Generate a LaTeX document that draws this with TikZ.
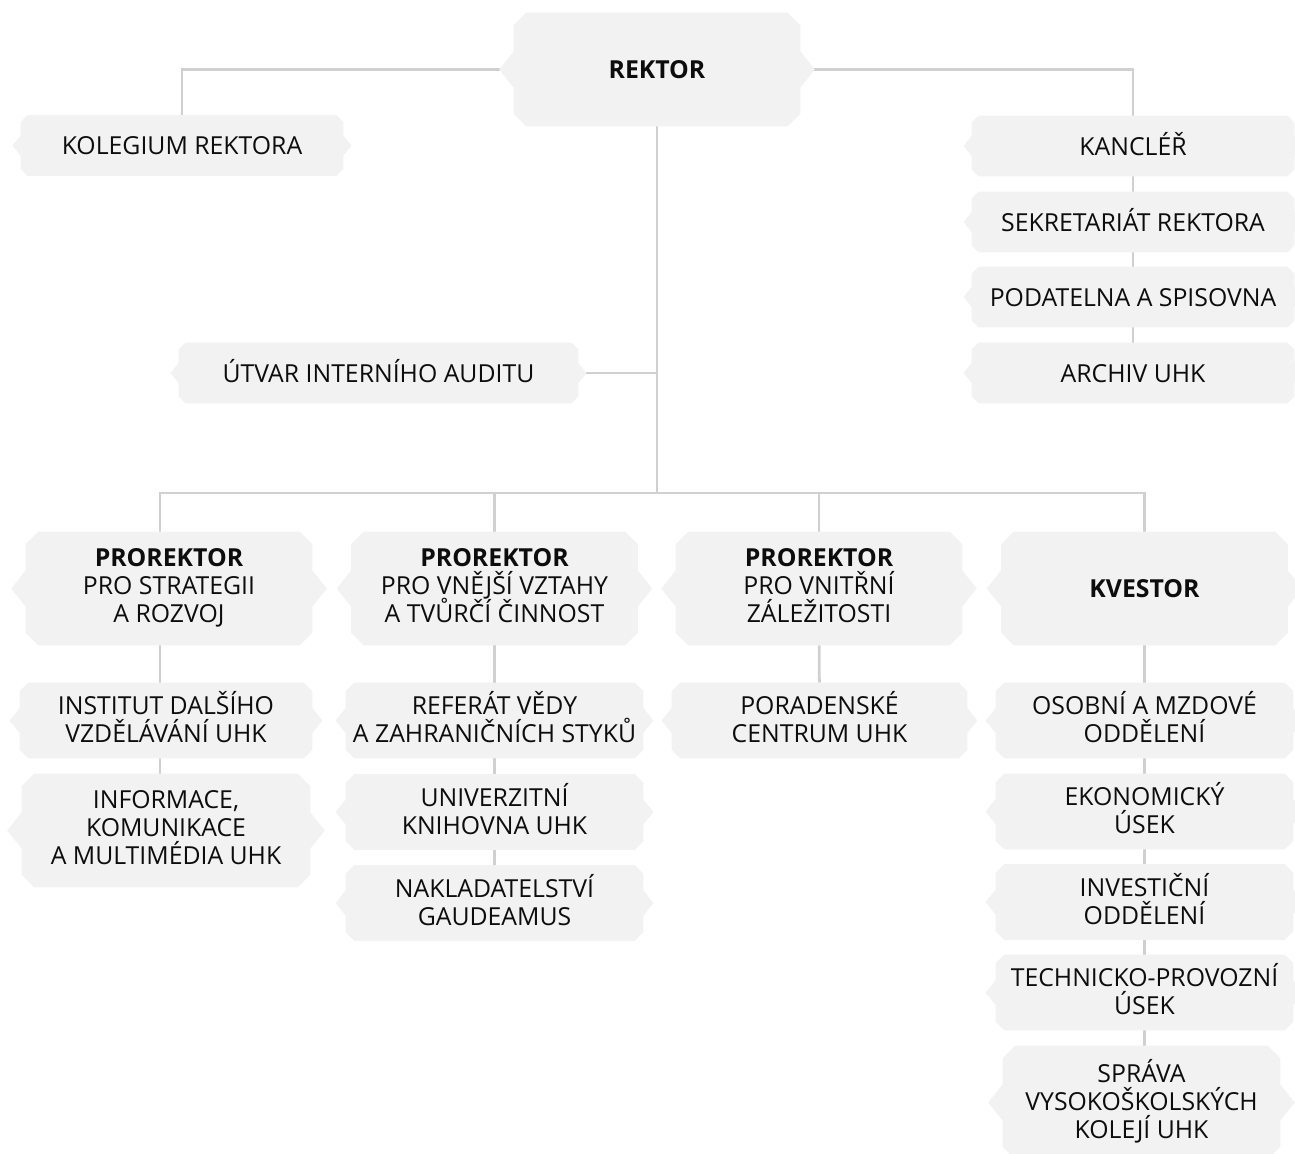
\documentclass[tikz,border=0pt]{standalone}
\usepackage{fontspec}
\setmainfont{Open Sans}
\usepackage{tikz}
\usepackage{xcolor}
\usetikzlibrary{backgrounds}
\definecolor{boxgray}{HTML}{F2F2F2}
\definecolor{linegray}{HTML}{D0D0D0}
\definecolor{ink}{HTML}{0D0D0D}
\begin{document}
\begin{tikzpicture}[x=0.5pt,y=-0.5pt,
    unit/.style={inner sep=0pt,align=center,text=ink,font=\fontsize{12.4}{14}\selectfont,
      execute at begin node={\lineskiplimit=-8pt\rule{0pt}{12.7pt}},
      execute at end node={\rule[-3.3pt]{0pt}{3.3pt}}},
    one/.style={unit,minimum height=30pt},
    two/.style={unit,minimum height=37.5pt},
    three/.style={unit,minimum height=56.5pt},
    wire/.style={draw=linegray,line width=1.4pt}]
  \useasboundingbox (0,0) rectangle (1295,1153);
  % top
  \node[three,minimum width=143pt] (rektor) at (657,69.5) {\textbf{REKTOR}};
  \node[one,minimum width=161pt] (kolegium) at (182,145.5) {KOLEGIUM REKTORA};
  \node[one,minimum width=161pt] (kancler) at (1133,146) {KANCLÉŘ};
  \node[one,minimum width=161pt] (sekretariat) at (1133,222) {SEKRETARIÁT REKTORA};
  \node[one,minimum width=161pt] (podatelna) at (1133,297) {PODATELNA A SPISOVNA};
  \node[one,minimum width=161pt] (archiv) at (1133,373) {ARCHIV UHK};
  \node[one,minimum width=199.5pt] (audit) at (378.5,373) {ÚTVAR INTERNÍHO AUDITU};
  % prorektori
  \node[three,minimum width=143pt] (pr1) at (169,588.5) {\textbf{PROREKTOR}\\PRO STRATEGII\\A ROZVOJ};
  \node[three,minimum width=143pt] (pr2) at (494.5,588.5) {\textbf{PROREKTOR}\\PRO VNĚJŠÍ VZTAHY\\A TVŮRČÍ ČINNOST};
  \node[three,minimum width=143pt] (pr3) at (819,588.5) {\textbf{PROREKTOR}\\PRO VNITŘNÍ\\ZÁLEŽITOSTI};
  \node[three,minimum width=143pt] (kvestor) at (1144.5,588.5) {\textbf{KVESTOR}};
  % soucasti
  \node[two,minimum width=146pt] (institut) at (166,720.5) {INSTITUT DALŠÍHO\\VZDĚLÁVÁNÍ UHK};
  \node[three,minimum width=144pt] (informace) at (166,830.5) {INFORMACE,\\KOMUNIKACE\\A MULTIMÉDIA UHK};
  \node[two,minimum width=148.5pt] (referat) at (494.5,720.5) {REFERÁT VĚDY\\A ZAHRANIČNÍCH STYKŮ};
  \node[two,minimum width=148.5pt] (knihovna) at (494.5,812) {UNIVERZITNÍ\\KNIHOVNA UHK};
  \node[two,minimum width=148.5pt] (nakladatelstvi) at (494.5,903) {NAKLADATELSTVÍ\\GAUDEAMUS};
  \node[two,minimum width=147.5pt] (poradenske) at (819.5,720.5) {PORADENSKÉ\\CENTRUM UHK};
  \node[two,minimum width=148.5pt] (osobni) at (1144.5,720.5) {OSOBNÍ A MZDOVÉ\\ODDĚLENÍ};
  \node[two,minimum width=148.5pt] (ekonomicky) at (1144.5,811.5) {EKONOMICKÝ\\ÚSEK};
  \node[two,minimum width=148.5pt] (investicni) at (1144.5,902) {INVESTIČNÍ\\ODDĚLENÍ};
  \node[two,minimum width=148.5pt] (technicko) at (1144.5,992.5) {TECHNICKO-PROVOZNÍ\\ÚSEK};
  \node[three,minimum width=138.5pt] (sprava) at (1141.5,1102.5) {SPRÁVA\\VYSOKOŠKOLSKÝCH\\KOLEJÍ UHK};
  \coordinate (bus) at (657,493);
  \begin{scope}[on background layer]
    % spojnice
    \draw[wire] (rektor.west) -| (kolegium.north);
    \draw[wire] (rektor.east) -| (kancler.north);
    \draw[wire] (kancler) -- (archiv);
    \draw[wire] (rektor) -- (bus);
    \draw[wire] (audit.east) -- (audit.east -| rektor);
    \draw[wire] ([xshift=-4.5pt]pr1.north) |- (kvestor.north |- bus) -- (kvestor.north);
    \foreach \p in {pr2,pr3} \draw[wire] (\p.north) -- (\p.north |- bus);
    \draw[wire] ([xshift=-4.5pt]pr1.south) -- ([xshift=-4.5pt]pr1.south |- informace.north);
    \draw[wire] (pr2) -- (nakladatelstvi);
    \draw[wire] (pr3) -- (poradenske);
    \draw[wire] (kvestor) -- (kvestor |- sprava.north);
    % plochy
    \foreach \n/\s in {rektor/1.8,kolegium/1,kancler/1,sekretariat/1,podatelna/1,archiv/1,audit/1,
        pr1/1.8,pr2/1.8,pr3/1.8,kvestor/1.8,institut/1.25,informace/1.8,referat/1.25,knihovna/1.25,
        nakladatelstvi/1.25,poradenske/1.25,osobni/1.25,ekonomicky/1.25,investicni/1.25,technicko/1.25,sprava/1.8}{
      \pgfmathsetmacro\cham{3.5*\s}\pgfmathsetmacro\dep{4*\s}\pgfmathsetmacro\hal{5*\s}
      \fill[boxgray] ([xshift=\cham pt]\n.north west) -- ([xshift=-\cham pt]\n.north east)
        -- ([yshift=-\cham pt]\n.north east) -- ([yshift=\hal pt]\n.east) -- ([xshift=\dep pt]\n.east)
        -- ([yshift=-\hal pt]\n.east) -- ([yshift=\cham pt]\n.south east) -- ([xshift=-\cham pt]\n.south east)
        -- ([xshift=\cham pt]\n.south west) -- ([yshift=\cham pt]\n.south west) -- ([yshift=-\hal pt]\n.west)
        -- ([xshift=-\dep pt]\n.west) -- ([yshift=\hal pt]\n.west) -- ([yshift=-\cham pt]\n.north west) -- cycle;
    }
  \end{scope}
\end{tikzpicture}
\end{document}
